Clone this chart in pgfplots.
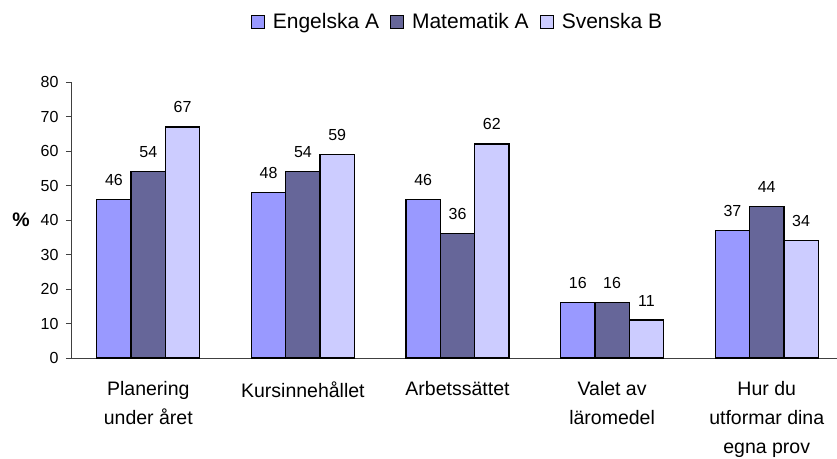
\documentclass[border=0pt]{standalone}
\usepackage{pgfplots}
\pgfplotsset{compat=1.18}
\usepackage{fontspec}
\setmainfont{Liberation Sans}
\definecolor{engA}{HTML}{9999FF}
\definecolor{matA}{HTML}{666699}
\definecolor{sveB}{HTML}{CCCCFF}
\begin{document}
\begin{tikzpicture}
\begin{axis}[
    scale only axis,
    width=773pt, height=276pt,
    ybar=0pt, bar width=34.3pt,
    xmin=-0.5, xmax=4.5,
    ymin=0, ymax=80,
    axis x line*=bottom, axis y line*=left,
    axis line style={-, black!75},
    ytick={0,10,...,80},
    tick align=outside,
    major tick length=5pt,
    tick style={black!75},
    yticklabel style={font=\fontsize{16}{18}\selectfont, xshift=-4pt},
    /pgf/number format/assume math mode=true,
    xtick={0,1,2,3,4},
    xticklabels={Planering\\under året, Kursinnehållet, Arbetssättet, Valet av\\läromedel, Hur du\\utformar dina\\egna prov},
    xticklabel style={align=center, font=\fontsize{19.5}{29}\selectfont, yshift=-15pt},
    xtick style={draw=none},
    extra x ticks={0.5,1.5,2.5,3.5,4.5},
    extra x tick labels={},
    extra x tick style={tick style={draw=black!75}, grid=none},
    ylabel={\textbf{\%}},
    ylabel style={rotate=-90, anchor=center, at={(axis description cs:0,0.5)}, xshift=-50pt, font=\fontsize{19.5}{22}\selectfont},
    nodes near coords,
    nodes near coords style={font=\fontsize{16}{18}\selectfont, anchor=south, yshift=10pt},
    every axis plot/.append style={draw=black, line width=1.3pt},
    legend style={draw=none, at={(0.5,1.217)}, anchor=center, legend columns=3,
        font=\fontsize{21}{23}\selectfont,
        /tikz/every odd column/.append style={column sep=6pt},
        /tikz/every even column/.append style={column sep=9pt}},
    legend image code/.code={\draw[#1, line width=1pt] (0pt,-6.5pt) rectangle (13pt,6.5pt);},
]
\addplot[fill=engA] coordinates {(0,46) (1,48) (2,46) (3,16) (4,37)};
\addplot[fill=matA] coordinates {(0,54) (1,54) (2,36) (3,16) (4,44)};
\addplot[fill=sveB] coordinates {(0,67) (1,59) (2,62) (3,11) (4,34)};
\legend{Engelska A, Matematik A, Svenska B}
\coordinate (o) at (rel axis cs:0,0);
\end{axis}
\pgfresetboundingbox
\path (o) ++(-71pt,-100pt) rectangle ++(837pt,458pt);
\end{tikzpicture}
\end{document}
